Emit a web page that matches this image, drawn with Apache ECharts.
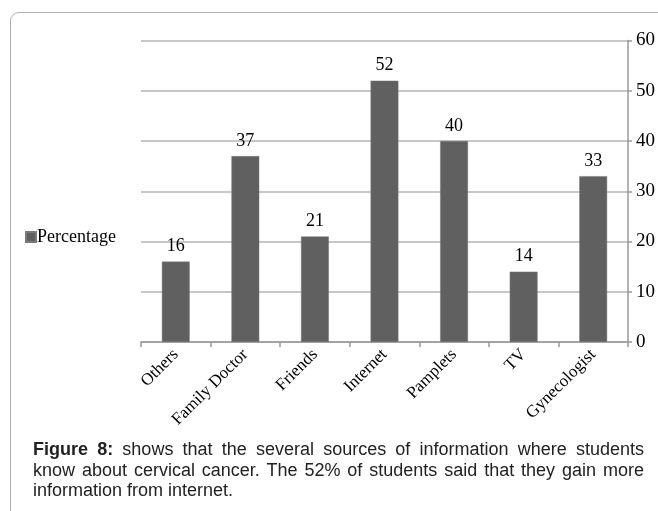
<!DOCTYPE html>
<html>
<head>
<meta charset="utf-8">
<script src="https://cdn.jsdelivr.net/npm/echarts@6/dist/echarts.min.js"></script>
<style>
  html, body { margin: 0; padding: 0; background: #fff; }
  #wrap { position: relative; width: 658px; height: 511px; overflow: hidden; }
  #chart { position: absolute; left: 0; top: 0; width: 658px; height: 511px; }
  #frame { position: absolute; left: 10px; top: 12px; width: 700px; height: 560px;
           border: 1.5px solid #b0b0b0; border-top-left-radius: 9px; box-sizing: border-box; }
  #caption { position: absolute; left: 33px; top: 439px; width: 611px;
             font-family: "Liberation Sans", Arial, sans-serif; font-size: 18px; color: #222;
             line-height: 20.5px; }
  #caption .j { text-align: justify; text-align-last: justify; }
</style>
</head>
<body>
<div id="wrap">
  <div id="frame"></div>
  <div id="chart"></div>
  <div id="caption">
    <div class="j"><b>Figure 8:</b> shows that the several sources of information where students</div>
    <div class="j">know about cervical cancer. The 52% of students said that they gain more</div>
    <div>information from internet.</div>
  </div>
</div>
<script>
const categories = ["Others", "Family Doctor", "Friends", "Internet", "Pamplets", "TV", "Gynecologist"];
const percentage = [16, 37, 21, 52, 40, 14, 33];
const seriesName = "Percentage";
const yMin = 0, yMax = 60, yInterval = 10;

const serif = '"Liberation Serif", "Times New Roman", serif';
const chart = echarts.init(document.getElementById('chart'));
chart.setOption({
  animation: false,
  backgroundColor: 'transparent',
  grid: { left: 141, right: 28, top: 40.5, bottom: 169, containLabel: false },
  legend: {
    data: [seriesName], left: 20, top: 223, orient: 'vertical',
    icon: 'rect', itemWidth: 10, itemHeight: 10, itemGap: 0,
    textStyle: { fontFamily: serif, fontSize: 18, color: '#000', padding: [0, 0, 0, -4] }
  },
  xAxis: {
    type: 'category', data: categories,
    axisLine: { show: true, lineStyle: { color: '#999', width: 1.5 } },
    axisTick: { show: true, length: 5, lineStyle: { color: '#999', width: 1.5 } },
    axisLabel: { rotate: 45, fontFamily: serif, fontSize: 17, color: '#000', margin: 10, interval: 0 }
  },
  yAxis: {
    type: 'value', position: 'right', min: yMin, max: yMax, interval: yInterval,
    axisLine: { show: true, lineStyle: { color: '#999', width: 1.5 } },
    axisTick: { show: true, length: 4, lineStyle: { color: '#999', width: 1.5 } },
    axisLabel: { fontFamily: serif, fontSize: 19, color: '#000', margin: 8 },
    splitLine: { show: true, lineStyle: { color: '#b4b4b4', width: 1.5 } }
  },
  series: [{
    name: seriesName, type: 'bar', data: percentage, barWidth: '40%',
    itemStyle: { color: '#606060', borderColor: '#7a7a7a', borderWidth: 0.5 },
    label: { show: true, position: 'top', distance: 6, fontFamily: serif, fontSize: 18, color: '#000' }
  }]
});
</script>
</body>
</html>
